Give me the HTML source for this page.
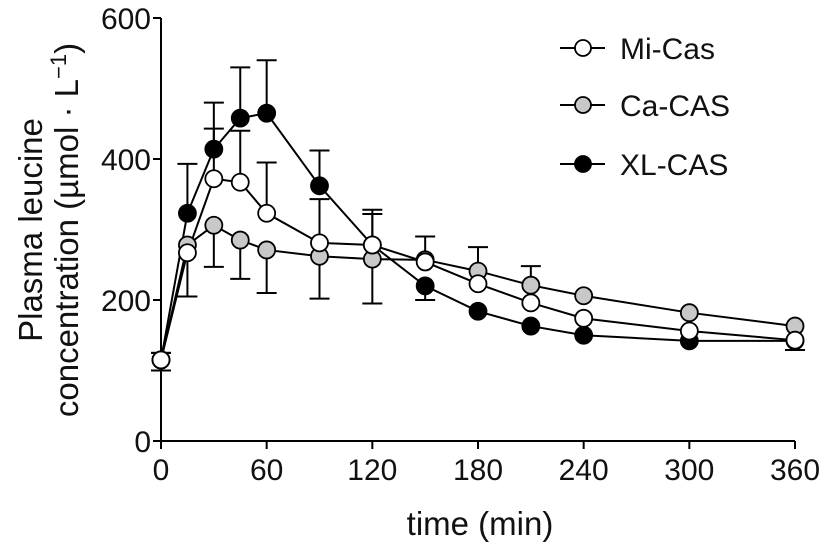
<!DOCTYPE html>
<html><head><meta charset="utf-8"><style>
body{margin:0;background:#fff;}
svg{display:block;font-family:"Liberation Sans",Arial,sans-serif;}
</style></head><body>
<svg id="chart" width="827" height="549" viewBox="0 0 827 549"></svg>
<script>
const times=[0,15,30,45,60,90,120,150,180,210,240,300,360];
const miCas=[115,267,372,367,323,281,278,254,223,196,174,156,143];
const caCas=[115,278,306,285,271,262,258,257,241,221,206,182,163];
const xlCas=[115,323,414,458,465,362,278,220,184,163,150,142,142];
const miUp=[10,0,71,73,72,62,44,36,0,0,0,0,0];
const miDown=[15,62,0,0,0,0,0,0,0,0,0,0,14];
const caUp=[0,0,0,0,0,0,0,0,34,27,0,0,0];
const caDown=[0,0,59,55,61,60,63,0,0,0,0,0,0];
const xlUp=[10,70,66,72,75,50,50,0,0,0,0,0,0];
const xlDown=[0,0,0,0,0,0,0,20,0,0,0,0,0];
const xTicks=[0,60,120,180,240,300,360];
const yTicks=[0,200,400,600];
const seriesNames=["Mi-Cas","Ca-CAS","XL-CAS"];

const NS="http://www.w3.org/2000/svg";
const svg=document.getElementById('chart');
const X0=161,X1=795,Y0=441,Y1=18;
const xs=v=>X0+(v/360)*(X1-X0);
const ys=v=>Y0-(v/600)*(Y0-Y1);
function el(tag,attrs,parent){const e=document.createElementNS(NS,tag);for(const k in attrs)e.setAttribute(k,attrs[k]);(parent||svg).appendChild(e);return e;}

let ax=el('line',{x1:X0,y1:Y0,x2:X1,y2:Y0,stroke:'#000','stroke-width':2});


let ay=el('line',{x1:X0,y1:Y0,x2:X0,y2:Y1,stroke:'#000','stroke-width':2});


xTicks.forEach(t=>{
  const x=xs(t);
  let tk=el('line',{x1:x,y1:Y0,x2:x,y2:Y0+8,stroke:'#000','stroke-width':2});
  
  
  let tx=el('text',{x:x,y:Y0+39,'text-anchor':'middle','font-size':30,fill:'#111'});
  tx.textContent=t;
  
  
});
yTicks.forEach(t=>{
  const y=ys(t);
  let tk=el('line',{x1:X0-8,y1:y,x2:X0,y2:y,stroke:'#000','stroke-width':2});
  
  
  let tx=el('text',{x:X0-10,y:y+11,'text-anchor':'end','font-size':30,fill:'#111'});
  tx.textContent=t;
  
  
});
let xt=el('text',{x:480,y:535,'text-anchor':'middle','font-size':33,fill:'#111'});
xt.textContent='time (min)';


let yt=el('text',{transform:'translate(42,230) rotate(-90)','text-anchor':'middle','font-size':33,fill:'#111'});


const t1=el('tspan',{x:0,dy:0},yt);t1.textContent='Plasma leucine';
const t2=el('tspan',{x:0,dy:36},yt);t2.textContent='concentration (µmol · L';
const t3=el('tspan',{dy:-12,'font-size':22},yt);t3.textContent='−1';
const t4=el('tspan',{dy:12},yt);t4.textContent=')';

const series=[
 {vals:miCas,up:miUp,down:miDown,fill:'#fff',name:'mi-cas'},
 {vals:caCas,up:caUp,down:caDown,fill:'#c8c8c8',name:'ca-cas'},
 {vals:xlCas,up:xlUp,down:xlDown,fill:'#000',name:'xl-cas'}
];
series.forEach(s=>{
  const g=el('g',{});
  
  
  const pts=times.map((t,i)=>xs(t)+','+ys(s.vals[i])).join(' ');
  let pl=el('polyline',{points:pts,fill:'none',stroke:'#000','stroke-width':2},g);
  
  
  times.forEach((t,i)=>{
    const x=xs(t);
    [[s.up[i],1],[s.down[i],-1]].forEach(([e,d])=>{
      if(!e)return;
      const yE=ys(s.vals[i]+d*e);
      let l=el('path',{d:`M${x},${ys(s.vals[i])}V${yE}M${x-10},${yE}H${x+10}`,stroke:'#000','stroke-width':2,fill:'none'},g);
      
      
    });
  });
});
[1,2,0].forEach(k=>{
  const s=series[k];
  times.forEach((t,i)=>{
    let c=el('circle',{cx:xs(t),cy:ys(s.vals[i]),r:8.5,fill:s.fill,stroke:'#000','stroke-width':1.8});
    
    
  });
});
const legY=[48,105,164];
series.forEach((s,k)=>{
  const g=el('g',{});
  
  
  el('line',{x1:560,y1:legY[k],x2:605,y2:legY[k],stroke:'#000','stroke-width':2},g);
  el('circle',{cx:583,cy:legY[k],r:8,fill:s.fill,stroke:'#000','stroke-width':1.8},g);
  const tx=el('text',{x:620,y:legY[k]+11,'font-size':30,fill:'#111'},g);
  tx.textContent=seriesNames[k];
});
</script>
</body></html>
